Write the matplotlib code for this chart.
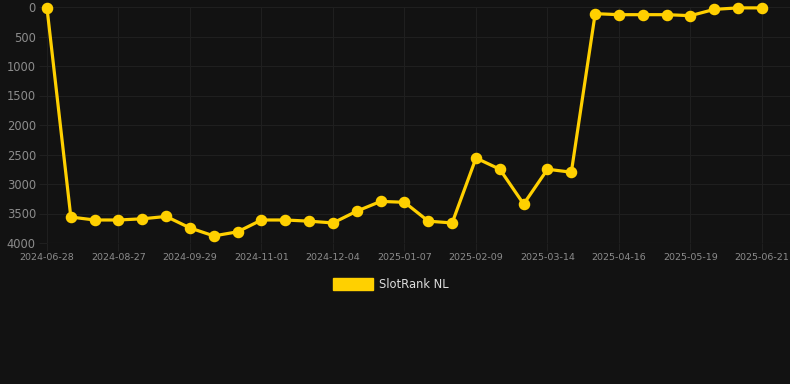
import matplotlib
matplotlib.use("Agg")
import matplotlib.pyplot as plt
from matplotlib.patches import Rectangle

tick_labels = ["2024-06-28", "2024-08-27", "2024-09-29", "2024-11-01", "2024-12-04",
               "2025-01-07", "2025-02-09", "2025-03-14", "2025-04-16", "2025-05-19",
               "2025-06-21"]
rank_values = [20, 3560, 3610, 3610, 3590, 3550, 3745, 3880, 3810, 3610,
               3610, 3630, 3660, 3460, 3295, 3310, 3630, 3660, 2560, 2750,
               3340, 2750, 2800, 113, 130, 130, 130, 147, 40, 15, 15]
series_name = "SlotRank NL"

BG = "#121212"
GRID = "#1f1f1f"
LINE = "#FFD000"
TICK = "#8c8c8c"

W, H = 790, 384
fig = plt.figure(figsize=(W / 100, H / 100), dpi=100, facecolor=BG)
ax = fig.add_axes([47 / W, 1 - 243 / H, (W - 47) / W, (243 - 7) / H])
ax.set_facecolor(BG)

x = list(range(len(rank_values)))
ax.plot(x, rank_values, color=LINE, linewidth=2.3, marker="o", markersize=7.3,
        markerfacecolor=LINE, markeredgecolor=LINE, zorder=3, clip_on=False)

step = (len(rank_values) - 1) // (len(tick_labels) - 1)
ax.set_xticks(x[::step])
ax.set_xticklabels(tick_labels)
ax.set_xlim(0, 30 + 28 / 23.83)
ax.set_ylim(4000, 0)
ax.set_yticks(range(0, 4001, 500))

ax.grid(True, color=GRID, linewidth=0.8)
for s in ax.spines.values():
    s.set_visible(False)
ax.tick_params(axis="both", colors=GRID, length=6, width=0.8)
ax.tick_params(axis="y", labelcolor=TICK, labelsize=8.3, pad=2)
ax.tick_params(axis="x", labelcolor=TICK, labelsize=6.8, pad=1)
ax.axhline(4000, color="#2c2c2c", linewidth=0.8, zorder=1)

fig.patches.append(Rectangle((333 / W, 1 - 290 / H), 40 / W, 12 / H,
                             transform=fig.transFigure, facecolor=LINE, edgecolor=LINE))
fig.text(379 / W, 1 - 284.5 / H, series_name, color="#dddddd", fontsize=8.3,
         va="center", ha="left")

fig.savefig("out.png", dpi=100, facecolor=BG)
